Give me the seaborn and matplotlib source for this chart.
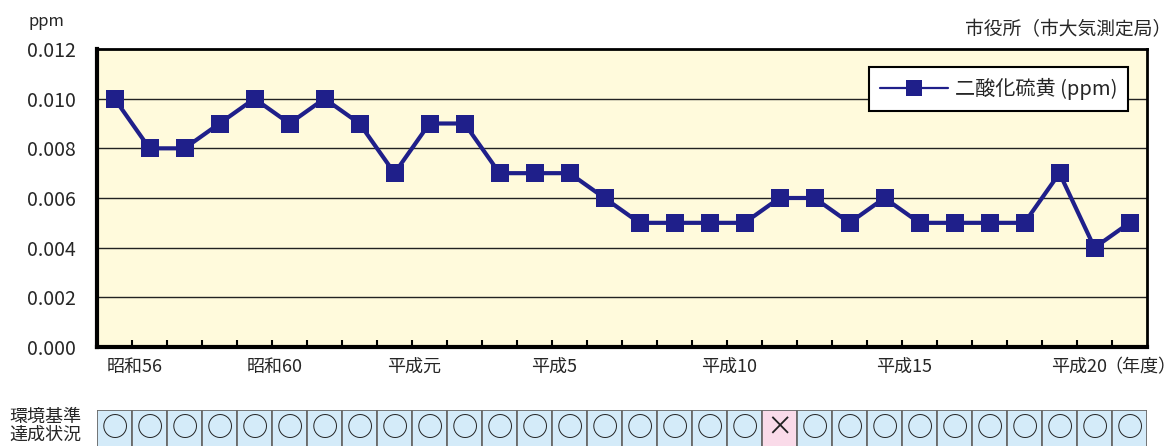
import matplotlib
matplotlib.use('Agg')
import matplotlib.pyplot as plt
import seaborn as sns
import pandas as pd

# fiscal years 昭和55 - 平成21
years = ['昭和%d' % y for y in range(55, 64)] + ['平成元'] + ['平成%d' % y for y in range(2, 22)]
so2 = [0.010, 0.008, 0.008, 0.009, 0.010, 0.009, 0.010, 0.009, 0.007, 0.009,
       0.009, 0.007, 0.007, 0.007, 0.006, 0.005, 0.005, 0.005, 0.005, 0.006,
       0.006, 0.005, 0.006, 0.005, 0.005, 0.005, 0.005, 0.007, 0.004, 0.005]
status = ['○'] * 19 + ['×'] + ['○'] * 10
shown = ['昭和56', '昭和60', '平成元', '平成5', '平成10', '平成15', '平成20']
yticks = [0.000, 0.002, 0.004, 0.006, 0.008, 0.010, 0.012]

df = pd.DataFrame({'pos': range(len(years)), 'year': years, 'so2': so2})

sns.set_style('white')
plt.rcParams['font.family'] = ['Noto Sans CJK JP', 'DejaVu Sans']

navy = '#1f1f8a'
W, H = 1176, 446
fig = plt.figure(figsize=(W / 100, H / 100), dpi=100)
ax = fig.add_axes([97 / W, (H - 347) / H, 1050 / W, 298 / H])
ax.set_facecolor('#fffadc')

sns.lineplot(data=df, x='pos', y='so2', marker='s', color=navy, linewidth=3,
             markersize=13, markeredgewidth=0, label='二酸化硫黄 (ppm)', ax=ax)

ax.set_xlim(-0.5, len(years) - 0.5)
ax.set_ylim(0, 0.012)
ax.set_yticks(yticks)
ax.set_yticklabels(['%.3f' % v for v in yticks], fontsize=14)
for v in yticks[1:-1]:
    ax.axhline(v, color='#222222', linewidth=1, zorder=0)

# category boundary ticks, labels shifted a bit left like the original
ax.set_xticks([p + 0.5 for p in range(len(years) - 1)], minor=True)
ax.tick_params(axis='x', which='minor', direction='in', length=5, width=1.5,
               bottom=True, color='black')
ax.set_xticks([years.index(s) - 0.43 for s in shown])
ax.set_xticklabels(shown, fontsize=13)
ax.tick_params(axis='x', which='major', length=0, pad=8)
ax.tick_params(axis='y', length=0, pad=15)
ax.set_xlabel('')
ax.set_ylabel('')
for side in ['left', 'bottom']:
    ax.spines[side].set_linewidth(3)
for side in ['top', 'right']:
    ax.spines[side].set_linewidth(2)
for s in ax.spines.values():
    s.set_color('black')

leg = ax.legend(loc='upper right', bbox_to_anchor=(0.982, 0.94), borderaxespad=0,
                fontsize=14.5, handlelength=3.4, handletextpad=0.3, fancybox=False,
                framealpha=1, borderpad=0.55)
leg.get_frame().set_edgecolor('black')
leg.get_frame().set_linewidth(1.5)
leg.legend_handles[0].set_linewidth(1.6)
leg.legend_handles[0].set_markersize(11)

fig.text(28 / W, 1 - 21 / H, 'ppm', fontsize=12, va='center', ha='left')
fig.text(1171 / W, 1 - 30 / H, '市役所（市大気測定局）', fontsize=13.5, va='center', ha='right')
fig.text(1176 / W, 1 - 367 / H, '（年度）', fontsize=13, va='center', ha='right')

# 環境基準達成状況 row
ax2 = fig.add_axes([97 / W, (H - 448) / H, 1050 / W, 38 / H])
colors = ['#fadbe9' if s == '×' else '#d4ebf9' for s in status]
ax2.bar(range(len(status)), [1] * len(status), width=1, color=colors,
        edgecolor='#6a6a6a', linewidth=1.3)
for i, s in enumerate(status):
    ax2.text(i, 0.52, s, ha='center', va='center', fontsize=19, color='#222222')
ax2.set_xlim(-0.5, len(status) - 0.5)
ax2.set_ylim(0, 1)
ax2.axis('off')
fig.text(45 / W, 1 - 426 / H, '環境基準\n達成状況', fontsize=13, ha='center', va='center',
         linespacing=1.0)

fig.savefig('out.png', dpi=100)
